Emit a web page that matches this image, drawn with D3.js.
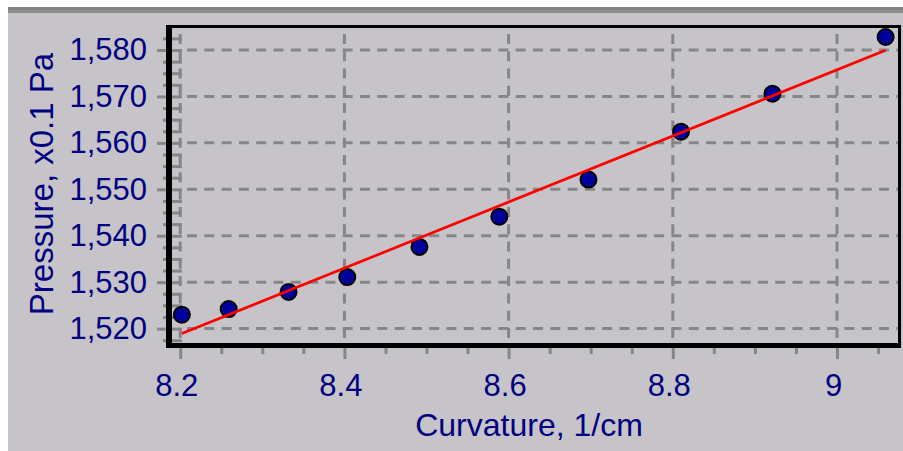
<!DOCTYPE html>
<html>
<head>
<meta charset="utf-8">
<script src="https://cdn.jsdelivr.net/npm/d3@7"></script>
<style>
  html, body { margin: 0; padding: 0; background: #ffffff; }
  svg { display: block; }
  text { font-family: "Liberation Sans", Arial, sans-serif; fill: #000080; }
</style>
</head>
<body>
<svg id="chart" width="903" height="451"></svg>
<script>
// Measured curvature (1/cm) and pressure (x0.1 Pa)
const curvature = [8.202, 8.259, 8.332, 8.4035, 8.4914, 8.5887, 8.6973, 8.810, 8.9214, 9.0592];
const pressure  = [1523.0, 1524.2, 1527.9, 1531.1, 1537.6, 1544.1, 1552.1, 1562.4, 1570.6, 1582.8];

// Axis ticks
const xTicks = [8.2, 8.4, 8.6, 8.8, 9];
const xTickLabels = ["8.2", "8.4", "8.6", "8.8", "9"];
const xMinorTicks = [8.25, 8.3, 8.35, 8.45, 8.5, 8.55, 8.65, 8.7, 8.75, 8.85, 8.9, 8.95, 9.05];
const yTicks = [1520, 1530, 1540, 1550, 1560, 1570, 1580];
const yTickLabels = ["1,520", "1,530", "1,540", "1,550", "1,560", "1,570", "1,580"];
const yMinorTicks = [1517.5, 1522.5, 1525, 1527.5, 1532.5, 1535, 1537.5, 1542.5, 1545, 1547.5,
                     1552.5, 1555, 1557.5, 1562.5, 1565, 1567.5, 1572.5, 1575, 1577.5, 1582.5];

const xTitle = "Curvature, 1/cm";
const yTitle = "Pressure, x0.1 Pa";

const svg = d3.select("#chart");
const W = 903, H = 451;

// inner plot box
const box = { left: 172, right: 898, top: 28, bottom: 343 };

const x = d3.scaleLinear().domain([8.19, 9.0743]).range([box.left, box.right]);
const y = d3.scaleLinear().domain([1516.9, 1584.74]).range([box.bottom, box.top]);

// window background and caption strip
svg.append("rect").attr("x", 0).attr("y", 0).attr("width", W).attr("height", H).attr("fill", "#ffffff");
svg.append("rect").attr("x", 8).attr("y", 7).attr("width", W - 8).attr("height", H - 7).attr("fill", "#c6c4c8");
svg.append("rect").attr("x", 8).attr("y", 7).attr("width", W - 8).attr("height", 3).attr("fill", "#808080");
svg.append("rect").attr("x", 8).attr("y", 10).attr("width", W - 8).attr("height", 3).attr("fill", "#8e8e8e");

const gridColor = "#868686";

// dashed grid
const grid = svg.append("g").attr("stroke", gridColor).attr("stroke-width", 3).attr("stroke-dasharray", "10,7.3");
grid.selectAll("line.h").data(yTicks).join("line").attr("class", "h")
  .attr("x1", box.left + 15).attr("x2", box.right)
  .attr("y1", d => y(d)).attr("y2", d => y(d));
grid.selectAll("line.v").data(xTicks).join("line").attr("class", "v")
  .attr("x1", d => x(d)).attr("x2", d => x(d))
  .attr("y1", box.bottom - 5).attr("y2", box.top);

function styleAxis(g) {
  g.select(".domain").remove();
  g.selectAll(".tick line").attr("stroke", gridColor).attr("stroke-width", 3);
  g.selectAll("text").attr("fill", "#000080")
    .style("font-family", "'Liberation Sans', Arial, sans-serif")
    .style("font-size", "31px");
}

// y axis: major ticks cross the frame, minor ticks stay outside
svg.append("g").attr("transform", `translate(${box.left + 10},0)`)
  .call(d3.axisLeft(y).tickValues(yMinorTicks).tickSize(19).tickFormat(""))
  .call(styleAxis);
svg.append("g").attr("transform", `translate(${box.left + 10},0)`)
  .call(d3.axisLeft(y).tickValues(yTicks).tickSize(25).tickPadding(10)
    .tickFormat((d, i) => yTickLabels[i]))
  .call(styleAxis);

// x axis
svg.append("g").attr("transform", `translate(0,${box.bottom})`)
  .call(d3.axisBottom(x).tickValues(xMinorTicks).tickSize(11).tickFormat(""))
  .call(styleAxis);
const xAxisG = svg.append("g").attr("transform", `translate(0,${box.bottom})`)
  .call(d3.axisBottom(x).tickValues(xTicks).tickSize(16).tickPadding(15)
    .tickFormat((d, i) => xTickLabels[i]))
  .call(styleAxis);
xAxisG.selectAll("text").attr("dx", -4);

// plot frame (heavier on the left and bottom)
const frame = svg.append("g").attr("fill", "#000000");
frame.append("rect").attr("x", box.left - 6).attr("y", box.top - 3)
  .attr("width", box.right - box.left + 9).attr("height", 3);
frame.append("rect").attr("x", box.right).attr("y", box.top - 3)
  .attr("width", 3).attr("height", box.bottom - box.top + 8);
frame.append("rect").attr("x", box.left - 6).attr("y", box.top - 3)
  .attr("width", 6).attr("height", box.bottom - box.top + 8);
frame.append("rect").attr("x", box.left - 6).attr("y", box.bottom)
  .attr("width", box.right - box.left + 9).attr("height", 5);

// data points
const pts = curvature.map((c, i) => ({ c, p: pressure[i] }));
svg.append("g").selectAll("circle").data(pts).join("circle")
  .attr("cx", d => x(d.c)).attr("cy", d => y(d.p)).attr("r", 8)
  .attr("fill", "#00009c").attr("stroke", "#000000").attr("stroke-width", 2);

// least-squares fit line across the measured range
const mx = d3.mean(curvature), my = d3.mean(pressure);
const slope = d3.sum(pts, d => (d.c - mx) * (d.p - my)) / d3.sum(pts, d => (d.c - mx) ** 2);
const intercept = my - slope * mx;
const xr = d3.extent(curvature);
svg.append("line")
  .attr("x1", x(xr[0])).attr("y1", y(intercept + slope * xr[0]))
  .attr("x2", x(xr[1])).attr("y2", y(intercept + slope * xr[1]))
  .attr("stroke", "#ff0000").attr("stroke-width", 2.7);

// axis titles
svg.append("text").attr("x", 529).attr("y", 436).attr("text-anchor", "middle")
  .style("font-size", "32px").text(xTitle);
svg.append("text").attr("transform", "translate(53,184) rotate(-90)").attr("text-anchor", "middle")
  .style("font-size", "33px").text(yTitle);
</script>
</body>
</html>
